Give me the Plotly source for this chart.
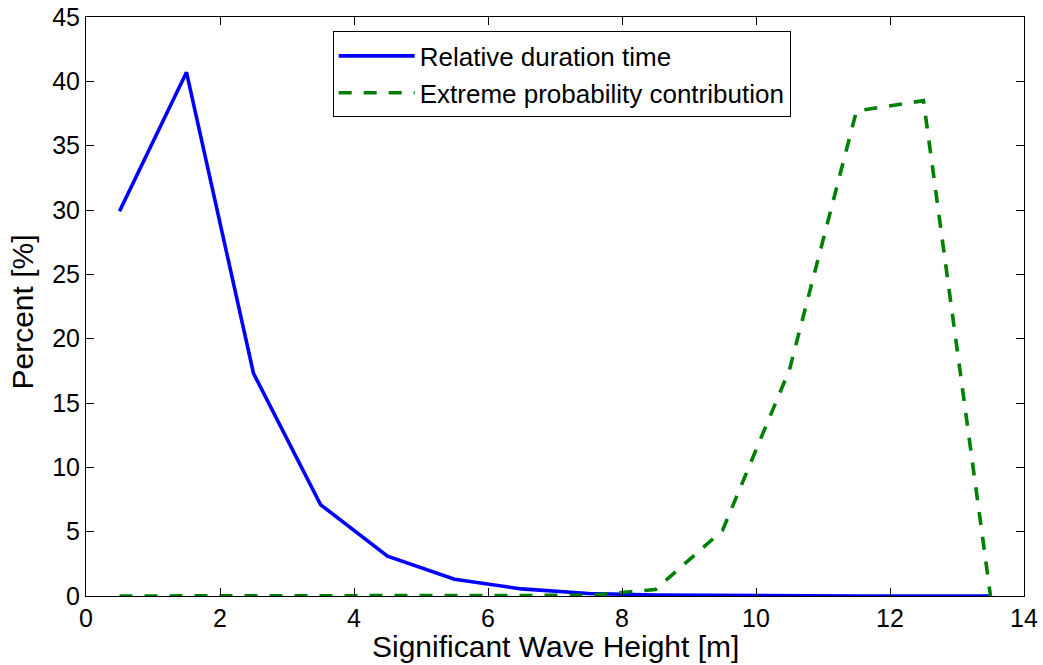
import plotly.graph_objects as go

hs = [0.5, 1.5, 2.5, 3.5, 4.5, 5.5, 6.5, 7.5, 8.5, 9.5, 10.5, 11.5, 12.5, 13.5]
duration = [29.9, 40.7, 17.3, 7.1, 3.1, 1.3, 0.55, 0.2, 0.08, 0.03, 0.01, 0.0, 0.0, 0.0]
extreme = [0.0, 0.0, 0.0, 0.0, 0.0, 0.0, 0.0, 0.05, 0.5, 5.1, 17.6, 37.7, 38.5, 0.0]

fig = go.Figure()
fig.add_trace(go.Scatter(x=hs, y=duration, mode="lines", name="Relative duration time",
                         line=dict(color="#0000ff", width=3.6)))
fig.add_trace(go.Scatter(x=hs, y=extreme, mode="lines", name="Extreme probability contribution",
                         line=dict(color="#008000", width=3.6, dash="13px,12px")))

axis_common = dict(showgrid=False, zeroline=False, showline=True, linecolor="black", linewidth=1,
                   mirror="ticks", ticks="inside", ticklen=8, tickcolor="black", automargin=False,
                   ticklabeloverflow="allow", tickfont=dict(size=25, color="black"))
fig.update_xaxes(range=[0, 14], dtick=2, **axis_common)
fig.update_yaxes(range=[0, 45], dtick=5, **axis_common)

fig.add_annotation(text="Significant Wave Height [m]", xref="paper", yref="paper",
                   x=0.5, y=-0.088, xanchor="center", yanchor="middle", showarrow=False,
                   font=dict(size=30, color="black"))
fig.add_annotation(text="Percent [%]", xref="paper", yref="paper", textangle=-90,
                   x=-0.068, y=0.49, xanchor="center", yanchor="middle", showarrow=False,
                   font=dict(size=30, color="black"))

fig.update_layout(
    width=1043, height=665,
    margin=dict(l=86, r=19, t=17, b=69),
    paper_bgcolor="white", plot_bgcolor="white",
    font=dict(family="Liberation Sans, Arial, sans-serif", color="black"),
    legend=dict(x=0.263, y=0.975, xanchor="left", yanchor="top",
                bordercolor="black", borderwidth=1, bgcolor="white",
                font=dict(size=26), tracegroupgap=0, itemwidth=76),
)
fig.write_html("out.html", config={"displayModeBar": False},
               post_script="document.body.style.margin='0';document.body.style.overflow='hidden';")
